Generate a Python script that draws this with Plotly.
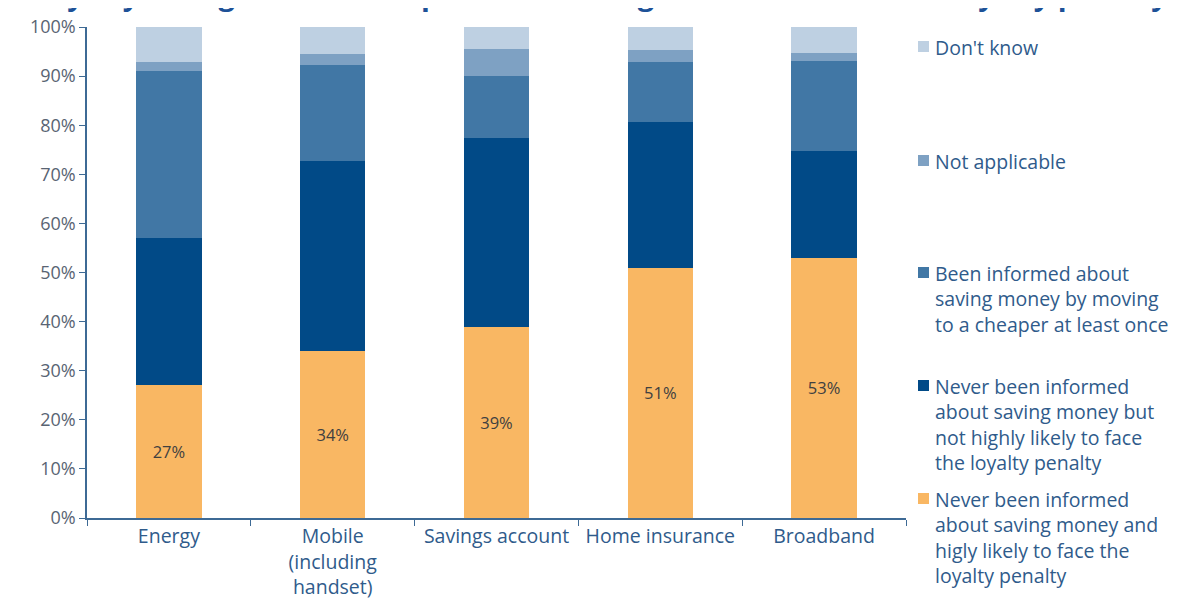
import plotly.graph_objects as go

# Categories and stacked shares (% of respondents), bottom to top.
categories = ["Energy", "Mobile<br>(including<br>handset)", "Savings account",
              "Home insurance", "Broadband"]

never_likely = [27, 34, 39, 51, 53]
never_not_likely = [30, 38.7, 38.4, 29.6, 21.7]
been_informed = [34, 19.6, 12.7, 12.2, 18.3]
not_applicable = [1.9, 2.2, 5.4, 2.5, 1.7]
dont_know = [7.1, 5.5, 4.5, 4.7, 5.3]

series_names = [
    "Never been informed<br>about saving money and<br>higly likely to face the<br>loyalty penalty",
    "Never been informed<br>about saving money but<br>not highly likely to face<br>the loyalty penalty",
    "Been informed about<br>saving money by moving<br>to a cheaper at least once",
    "Not applicable",
    "Don't know",
]
series_values = [never_likely, never_not_likely, been_informed, not_applicable, dont_know]
series_colors = ["#F9B763", "#014A87", "#4177A5", "#7EA1C3", "#BED0E2"]

FONT = "Open Sans"
TEXT_BLUE = "#2F5B8B"

# The page body adds an 8px offset, so margins are trimmed to compensate.
L, T, R, B = 79, 19, 291, 103
PLOT_W = 1189 - L - R
PLOT_H = 613 - T - B


def px_x(x):
    return (x - 8 - L) / PLOT_W


def px_y(y):
    return (613 - B - (y - 8)) / PLOT_H


fig = go.Figure()
for i, (name, vals, color) in enumerate(zip(series_names, series_values, series_colors)):
    fig.add_trace(
        go.Bar(
            x=categories,
            y=vals,
            name=name,
            marker=dict(color=color, line=dict(width=0)),
            text=[f"{v:.0f}%" for v in vals] if i == 0 else None,
            textposition="inside" if i == 0 else "none",
            insidetextanchor="middle",
            textfont=dict(family=FONT, size=16.5, color="#404040"),
            showlegend=False,
        )
    )

# Legend drawn by hand so entries keep the reference's uneven spacing.
legend_top = [46, 160, 272, 385, 498]
for name, color, y in zip(series_names[::-1], series_colors[::-1], legend_top):
    fig.add_shape(
        type="rect", xref="paper", yref="paper",
        x0=px_x(918), x1=px_x(929),
        y0=px_y(y + 6), y1=px_y(y - 5),
        fillcolor=color, line=dict(width=0),
    )
    fig.add_annotation(
        xref="paper", yref="paper",
        x=px_x(933), y=px_y(y - 14),
        xanchor="left", yanchor="top", align="left",
        text=name, showarrow=False,
        font=dict(family=FONT, size=19.5, color=TEXT_BLUE),
    )

# Cropped title: only the bottoms of the letters are visible at the top edge.
fig.add_annotation(
    xref="paper", yref="paper", x=px_x(600), y=px_y(15),
    xanchor="center", yanchor="bottom",
    text="<b>Loyalty: being informed of potential savings and likelihood of a loyalty penalty</b>",
    showarrow=False, font=dict(family=FONT, size=29, color="#1D5197"),
)

fig.update_layout(
    barmode="stack",
    bargap=0.6,
    width=1189,
    height=613,
    margin=dict(l=L, r=R, t=T, b=B),
    plot_bgcolor="white",
    paper_bgcolor="white",
    showlegend=False,
    font=dict(family=FONT),
    xaxis=dict(
        automargin=False,
        showline=True, linecolor="#3E6A95", linewidth=1.5,
        ticks="outside", tickson="boundaries", ticklen=6, tickcolor="#3E6A95",
        tickfont=dict(family=FONT, size=19.5, color=TEXT_BLUE),
        showgrid=False,
    ),
    yaxis=dict(
        automargin=False,
        range=[0, 100], dtick=10, ticksuffix="%",
        showline=True, linecolor="#3E6A95", linewidth=1.5,
        ticks="outside", ticklen=6, tickcolor="#3E6A95",
        tickfont=dict(family=FONT, size=18, color="#596473"),
        showgrid=False, zeroline=False,
    ),
)

fig.write_html("out.html")
